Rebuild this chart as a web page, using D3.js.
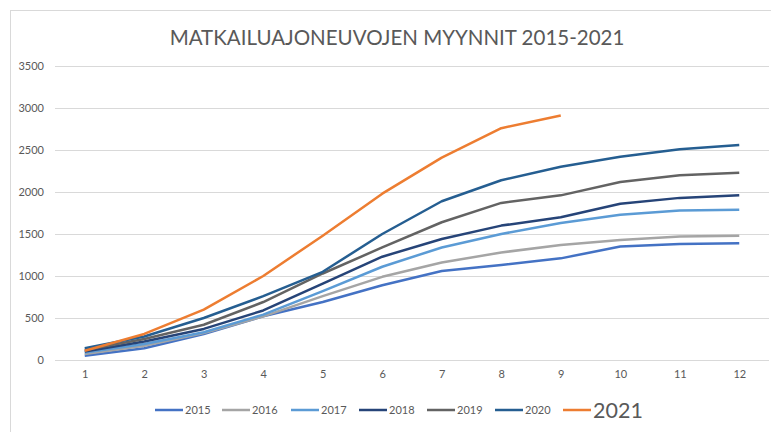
<!DOCTYPE html>
<html>
<head>
<meta charset="utf-8">
<script src="https://cdn.jsdelivr.net/npm/d3@7"></script>
<style>
  body { margin: 0; background: #fff; }
  svg { display: block; font-family: Lato, "Open Sans", sans-serif; }
</style>
</head>
<body>
<div id="chart"></div>
<script>
var width = 771,
    height = 432;

// data
var months = ["1", "2", "3", "4", "5", "6", "7", "8", "9", "10", "11", "12"];
var yTicks = [0, 500, 1000, 1500, 2000, 2500, 3000, 3500];
var years = ["2015", "2016", "2017", "2018", "2019", "2020", "2021"];
var s2015 = [50, 140, 310, 520, 690, 890, 1060, 1130, 1210, 1350, 1380, 1390];
var s2016 = [70, 170, 320, 520, 760, 990, 1160, 1280, 1370, 1430, 1470, 1480];
var s2017 = [90, 190, 330, 540, 820, 1110, 1340, 1500, 1630, 1730, 1780, 1790];
var s2018 = [100, 220, 370, 590, 910, 1230, 1440, 1600, 1700, 1860, 1930, 1960];
var s2019 = [120, 250, 420, 690, 1030, 1340, 1640, 1870, 1960, 2120, 2200, 2230];
var s2020 = [140, 280, 500, 760, 1050, 1500, 1890, 2140, 2300, 2420, 2510, 2560];
var s2021 = [110, 310, 600, 1000, 1480, 1980, 2410, 2760, 2910];
var colors = ["#4472C4", "#A5A5A5", "#5B9BD5", "#264478", "#636363", "#255E91", "#ED7D31"];

var allSeries = [s2015, s2016, s2017, s2018, s2019, s2020, s2021];

var svg = d3.select("#chart").append("svg")
    .attr("width", width)
    .attr("height", height);

// outer chart border
svg.append("rect")
    .attr("x", 10.5).attr("y", 10.5)
    .attr("width", 800).attr("height", 500)
    .attr("fill", "none")
    .attr("stroke", "#d9d9d9");

svg.append("text")
    .attr("x", 397)
    .attr("y", 45)
    .attr("text-anchor", "middle")
    .attr("font-size", 20.5)
    .attr("fill", "#595959")
    .text("MATKAILUAJONEUVOJEN MYYNNIT 2015-2021");

var x = d3.scalePoint()
    .domain(months)
    .range([55, 769])
    .padding(0.5);

var y = d3.scaleLinear()
    .domain([0, 3500])
    .range([360, 66]);

// gridlines
svg.append("g")
    .selectAll("line")
    .data(yTicks)
    .enter()
    .append("line")
    .attr("x1", 55)
    .attr("x2", 769)
    .attr("y1", d => Math.round(y(d)) + 0.5)
    .attr("y2", d => Math.round(y(d)) + 0.5)
    .attr("stroke", "#d9d9d9")
    .attr("stroke-width", 1);

var yAxis = svg.append("g")
    .attr("transform", "translate(44,0)")
    .call(d3.axisLeft(y).tickValues(yTicks).tickFormat(d3.format("d")).tickSize(0).tickPadding(0));
yAxis.select(".domain").remove();
yAxis.selectAll("text")
    .attr("font-size", 11)
    .attr("fill", "#595959")
    .attr("font-family", "Lato, sans-serif");

var xAxis = svg.append("g")
    .attr("transform", "translate(0,370)")
    .call(d3.axisBottom(x).tickSize(0).tickPadding(0));
xAxis.select(".domain").remove();
xAxis.selectAll("text")
    .attr("font-size", 11)
    .attr("fill", "#595959")
    .attr("font-family", "Lato, sans-serif");

var line = d3.line()
    .x((d, i) => x(months[i]))
    .y(d => y(d));

svg.append("g")
    .selectAll("path")
    .data(allSeries)
    .enter()
    .append("path")
    .attr("d", d => line(d))
    .attr("fill", "none")
    .attr("stroke", (d, i) => colors[i])
    .attr("stroke-width", 2.5)
    .attr("stroke-linejoin", "round");

// legend
var legendX = [155, 222, 291, 359, 427, 495, 563];
var legend = svg.append("g")
    .selectAll("g")
    .data(years)
    .enter()
    .append("g")
    .attr("transform", (d, i) => "translate(" + legendX[i] + ",410)");
legend.append("line")
    .attr("x1", 0).attr("x2", 28)
    .attr("y1", 0).attr("y2", 0)
    .attr("stroke", (d, i) => colors[i])
    .attr("stroke-width", 2.5);
legend.append("text")
    .attr("x", 30)
    .attr("y", (d, i) => i == 6 ? 8 : 4)
    .attr("font-size", (d, i) => i == 6 ? 21.5 : 11)
    .attr("fill", "#595959")
    .text(d => d);
</script>
</body>
</html>
